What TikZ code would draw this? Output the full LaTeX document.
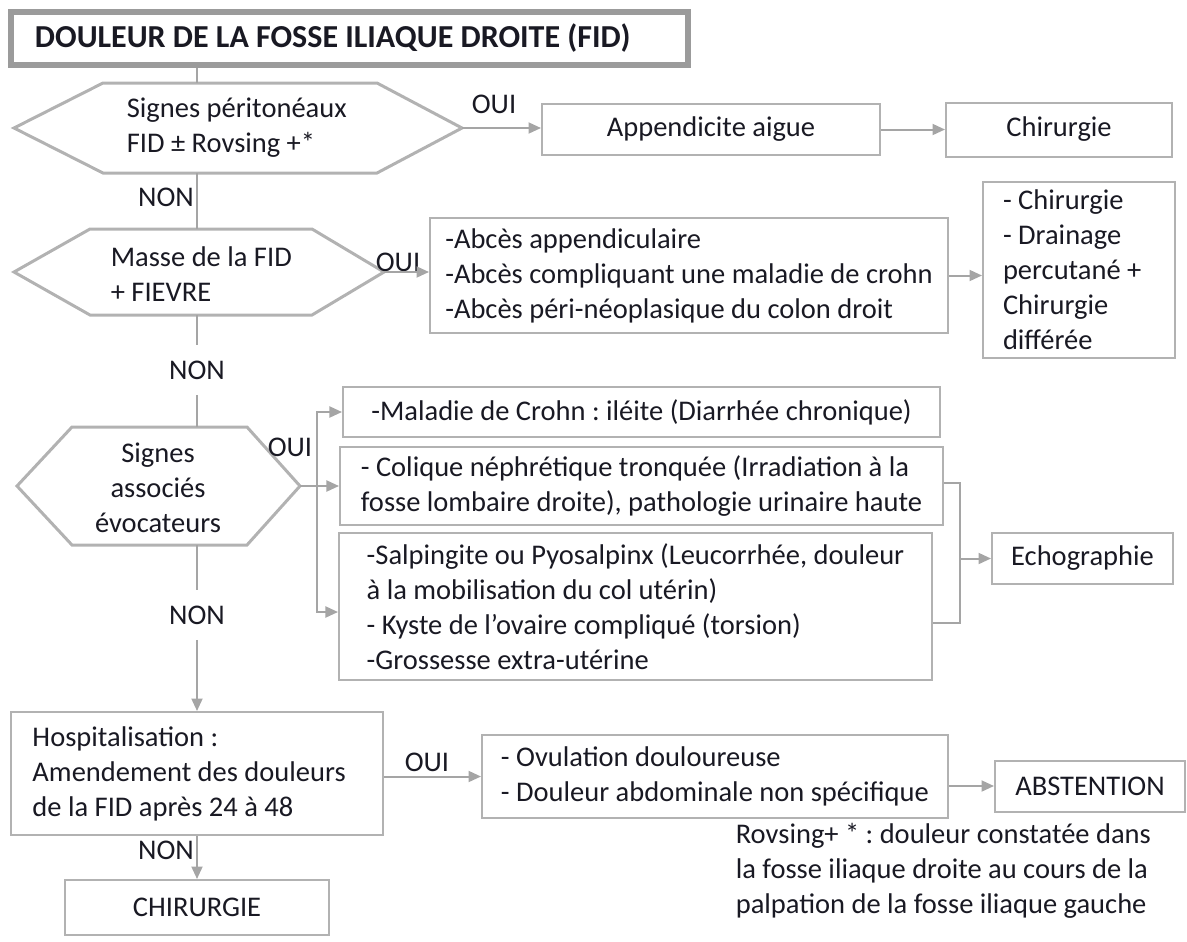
\documentclass[tikz,border=0pt]{standalone}
\usepackage{fontspec}
\setmainfont{Carlito}
\usetikzlibrary{arrows.meta,calc}
\definecolor{linegray}{RGB}{165,165,165}
\definecolor{boxgray}{RGB}{178,178,178}
\definecolor{framegray}{RGB}{155,155,155}
\definecolor{ink}{RGB}{25,25,35}
\tikzset{
  every node/.style={font=\fontsize{11.4}{14}\selectfont\frenchspacing, text=ink},
  box/.style={draw=boxgray, line width=0.8pt, inner sep=0pt},
  hexa/.style={draw=boxgray, line width=1.2pt, line join=miter},
  conn/.style={draw=linegray, line width=0.8pt},
  arr/.style={conn, -{Triangle[length=5pt,width=4.4pt]}},
  gap/.style={inner xsep=2pt, inner ysep=6pt},
}
\begin{document}
\begin{tikzpicture}[x=0.4pt,y=-0.4pt]
\useasboundingbox (0,0) rectangle (1187,941);

% title
\node[draw=framegray, line width=2.4pt, minimum height=21.2pt, text width=251.6pt,
      inner xsep=9.6pt, inner ysep=0pt, align=flush left,
      font=\fontsize{12.8}{14}\selectfont\bfseries] (title) at (349.5,38.5)
      {DOULEUR DE LA FOSSE ILIAQUE DROITE (FID)};

% decision 1
\coordinate (h1w) at (14,128);
\coordinate (h1e) at (462,128);
\coordinate (h1n) at (197,83);
\coordinate (h1s) at (197,173);
\draw[hexa] (h1w) -- (103,83) -- (377,83) -- (h1e) -- (377,173) -- (103,173) -- cycle;
\node[align=flush left, anchor=west] (h1t) at (118,128) {Signes péritonéaux\\FID ± Rovsing +*};

% decision 2
\coordinate (h2w) at (14,272);
\coordinate (h2e) at (384,272);
\coordinate (h2n) at (197,229);
\coordinate (h2s) at (197,315);
\draw[hexa] (h2w) -- (90,229) -- (312,229) -- (h2e) -- (312,315) -- (90,315) -- cycle;
\node[align=flush left, anchor=west] (h2t) at (102,274) {Masse de la FID\\+ FIEVRE};

% decision 3
\coordinate (h3w) at (17,486);
\coordinate (h3e) at (300,486);
\coordinate (h3n) at (197,427);
\coordinate (h3s) at (197,545);
\draw[hexa] (h3w) -- (72,427) -- (247,427) -- (h3e) -- (247,545) -- (72,545) -- cycle;
\node[align=center] (h3t) at (158,488) {Signes\\associés\\évocateurs};

% outcome boxes
\node[box, minimum width=135.2pt, minimum height=20.4pt] (app) at (711,129.5) {Appendicite aigue};
\node[box, minimum width=90.4pt, minimum height=21.6pt] (chir1) at (1059,129.5) {Chirurgie};
\node[box, minimum width=207.2pt, minimum height=46pt, align=flush left] (abc) at (689,275.5)
  {-Abcès appendiculaire\\-Abcès compliquant une maladie de crohn\\-Abcès péri-néoplasique du colon droit};
\node[box, minimum width=76.8pt, minimum height=70.4pt, text width=60.8pt, inner xsep=8pt,
      align=flush left] (drain) at (1079,270)
  {- Chirurgie\\- Drainage\\percutané +\\Chirurgie\\différée};
\node[box, minimum width=238.8pt, minimum height=20pt] (crohn) at (641.5,412)
  {-Maladie de Crohn : iléite (Diarrhée chronique)};
\node[box, minimum width=241.2pt, minimum height=31.2pt, align=flush left] (coliq) at (641.5,486)
  {- Colique néphrétique tronquée (Irradiation à la\\fosse lombaire droite), pathologie urinaire haute};
\node[box, minimum width=237.2pt, minimum height=58.8pt, align=flush left] (salp) at (635.5,606.5)
  {-Salpingite ou Pyosalpinx (Leucorrhée, douleur\\à la mobilisation du col utérin)\\- Kyste de l’ovaire compliqué (torsion)\\-Grossesse extra-utérine};
\node[box, minimum width=72.4pt, minimum height=20.4pt] (echo) at (1082.5,558.5) {Echographie};
\node[box, minimum width=148.4pt, minimum height=49.2pt, text width=131.6pt, inner xsep=8.4pt,
      align=flush left] (hosp) at (197,773.5)
  {Hospitalisation :\\Amendement des douleurs\\de la FID après 24 à 48};
\node[box, minimum width=186.4pt, minimum height=33.2pt, align=flush left] (ovul) at (715,776.5)
  {- Ovulation douloureuse\\- Douleur abdominale non spécifique};
\node[box, minimum width=76pt, minimum height=20.4pt] (abst) at (1090,786) {ABSTENTION};
\node[box, minimum width=105.2pt, minimum height=22pt] (chir2) at (197,907.5) {CHIRURGIE};

% labels
\node (oui1) at (494,104) {OUI};
\node (oui2) at (398,262) {OUI};
\node (oui3) at (290,447) {OUI};
\node (oui4) at (427,762) {OUI};
\node (non1) at (166,197) {NON};
\node[gap] (non2) at (197,370) {NON};
\node[gap] (non3) at (197,615) {NON};
\node (non4) at (166,850) {NON};

% main "NON" spine
\draw[conn] (title.south -| h1n) -- (h1n);
\draw[conn] (h1s) -- (h2n);
\draw[conn] (h2s) -- (non2);
\draw[conn] (non2) -- (h3n);
\draw[conn] (h3s) -- (non3);
\draw[arr] (non3) -- (hosp.north);
\draw[arr] (hosp.south) -- (chir2.north);

% "OUI" branches
\draw[arr] (h1e) -- (h1e -| app.west);
\draw[arr] (app.east) -- (chir1.west);
\draw[arr] (h2e) -- (h2e -| abc.west);
\draw[arr] (abc.east) -- (abc.east -| drain.west);

\coordinate (bk) at (317,486);
\draw[conn] (h3e) -- (bk);
\draw[arr] (bk) -- (coliq.west);
\draw[arr] (bk) |- (crohn.west);
\draw[arr] (bk) |- ([yshift=-2.2pt]salp.west);

\coordinate (eb) at (960,558.5);
\draw[conn] ([yshift=1.2pt]coliq.east) -| (eb) |- ([yshift=-6.6pt]salp.east);
\draw[arr] (eb) -- (echo.west);

\draw[arr] (ovul.west -| hosp.east) -- (ovul.west);
\draw[arr] (abst.west -| ovul.east) -- (abst.west);

% footnote
\node[anchor=west, align=flush left] (note) at (727,871)
  {Rovsing+ * : douleur constatée dans\\la fosse iliaque droite au cours de la\\palpation de la fosse iliaque gauche};
\end{tikzpicture}
\end{document}
